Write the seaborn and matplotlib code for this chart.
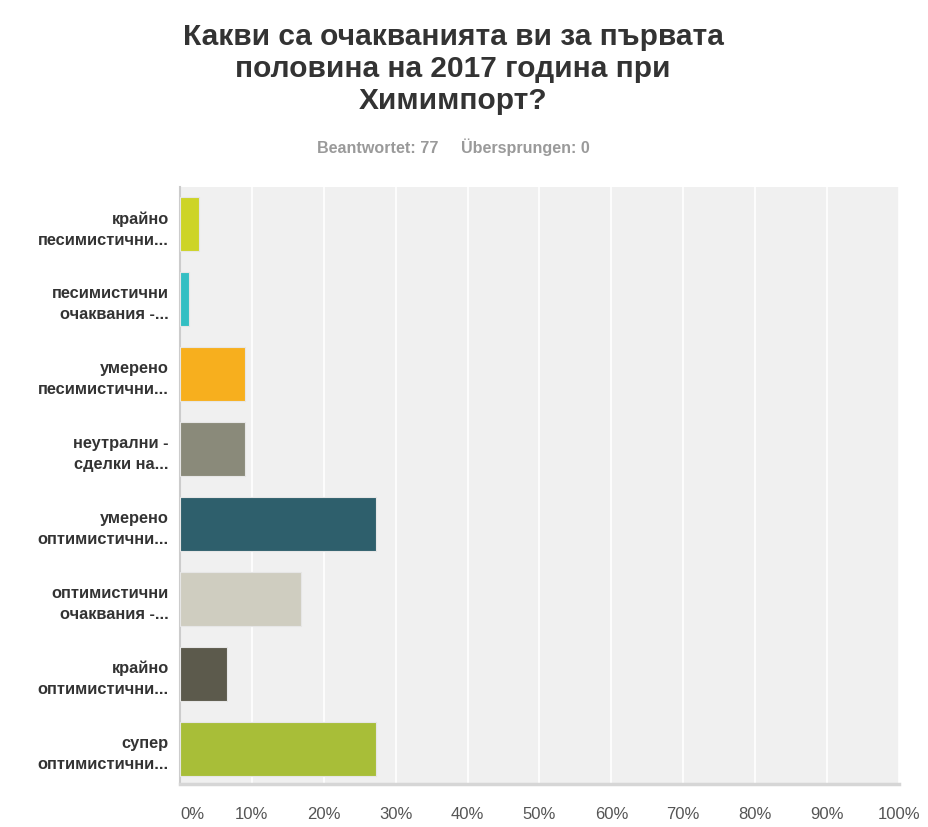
import matplotlib
matplotlib.use("Agg")
import matplotlib.pyplot as plt
import seaborn as sns
import pandas as pd

# %%
## DATA
categories = [
    "крайно\nпесимистични...",
    "песимистични\nочаквания -...",
    "умерено\nпесимистични...",
    "неутрални -\nсделки на...",
    "умерено\nоптимистични...",
    "оптимистични\nочаквания -...",
    "крайно\nоптимистични...",
    "супер\nоптимистични...",
]
percent = [2.60, 1.30, 9.09, 9.09, 27.27, 16.88, 6.49, 27.27]
colors = ["#cdd426", "#33bfc3", "#f7af1e", "#8a8a7a",
          "#2e5f6c", "#cfcdc0", "#5c5a4c", "#a8be38"]
x_ticks = [0, 10, 20, 30, 40, 50, 60, 70, 80, 90, 100]
x_tick_labels = [f"{t}%" for t in x_ticks]

df = pd.DataFrame({"answer": categories, "percent": percent})

# %%
## PLOT
sns.set_style("white")
plt.rcParams["font.family"] = ["Liberation Sans", "DejaVu Sans"]

fig = plt.figure(figsize=(9.29, 8.28), dpi=100)
ax = fig.add_axes([180 / 929, 1 - 785 / 828, 719 / 929, (785 - 188) / 828])
ax.set_facecolor("#f0f0f0")

sns.barplot(data=df, x="percent", y="answer", hue="answer", palette=colors,
            orient="h", width=0.72, saturation=1, legend=False, ax=ax,
            edgecolor="#e6e6e6", linewidth=0.8, zorder=3)

ax.set_xlim(0, 100)
ax.set_ylim(7.47, -0.49)
ax.set_xticks(x_ticks)
ax.set_xticklabels(x_tick_labels, fontsize=12, color="#555555")
ax.get_xticklabels()[0].set_horizontalalignment("left")
ax.tick_params(axis="x", length=0, pad=16)
ax.tick_params(axis="y", length=0, pad=8)
for lbl in ax.get_yticklabels():
    lbl.set_fontweight("bold")
    lbl.set_fontsize(11.8)
    lbl.set_color("#333333")
    lbl.set_linespacing(1.5)
ax.set_xlabel("")
ax.set_ylabel("")
ax.grid(axis="x", color="white", linewidth=1.2, zorder=0)
ax.set_axisbelow(True)

for side in ["top", "right"]:
    ax.spines[side].set_visible(False)
ax.spines["left"].set_color("#cccccc")
ax.spines["left"].set_linewidth(1.5)
ax.spines["bottom"].set_color("#d6d6d6")
ax.spines["bottom"].set_linewidth(2.5)

fig.text(453 / 929, 1 - 69 / 828,
         "Какви са очакванията ви за първата\nполовина на 2017 година при\nХимимпорт?",
         ha="center", va="center", fontsize=21.5, fontweight="bold",
         color="#333333", linespacing=1.2)
fig.text(453 / 929, 1 - 147 / 828,
         "Beantwortet: 77     Übersprungen: 0",
         ha="center", va="center", fontsize=11.6, fontweight="bold",
         color="#9a9a9a")

plt.savefig("out.png", dpi=100)
